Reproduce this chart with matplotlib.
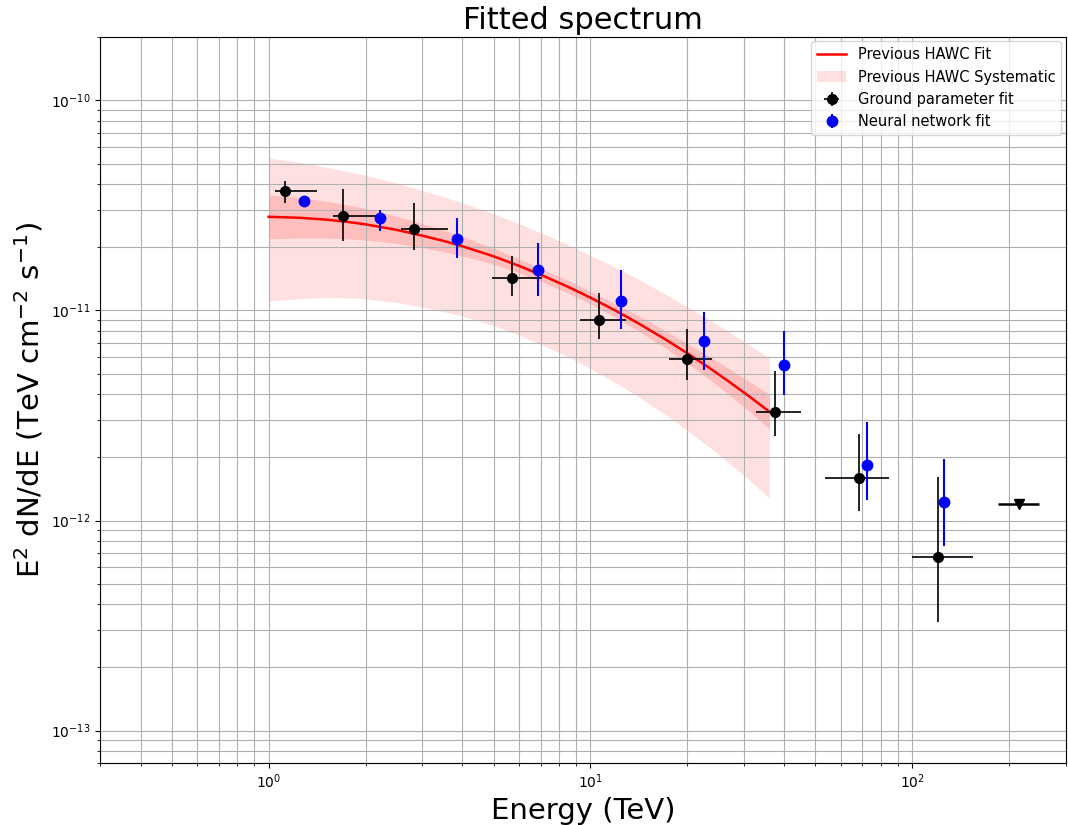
import numpy as np
import matplotlib
matplotlib.use("Agg")
import matplotlib.pyplot as plt

# ground parameter fit points (E in TeV, E^2 dN/dE in TeV cm^-2 s^-1)
gp_e = [1.12, 1.70, 2.82, 5.70, 10.6, 19.9, 37.5, 68.2, 120.4]
gp_elo = [1.05, 1.58, 2.58, 4.96, 9.29, 17.5, 32.7, 53.7, 99.5]
gp_ehi = [1.41, 2.15, 3.62, 7.06, 12.85, 23.9, 45.0, 84.4, 154.6]
gp_f = [3.72e-11, 2.83e-11, 2.45e-11, 1.42e-11, 9.03e-12, 5.89e-12, 3.28e-12, 1.60e-12, 6.71e-13]
gp_flo = [3.25e-11, 2.13e-11, 1.95e-11, 1.17e-11, 7.31e-12, 4.69e-12, 2.52e-12, 1.11e-12, 3.28e-13]
gp_fhi = [4.11e-11, 3.77e-11, 3.26e-11, 1.82e-11, 1.21e-11, 8.14e-12, 5.14e-12, 2.58e-12, 1.61e-12]

# upper limit
ul_e = [214.7]
ul_elo = [184.8]
ul_ehi = [247.6]
ul_f = [1.20e-12]

# neural network fit points
nn_e = [1.287, 2.21, 3.85, 6.89, 12.43, 22.5, 40.0, 72.2, 125.0]
nn_f = [3.32e-11, 2.74e-11, 2.20e-11, 1.55e-11, 1.11e-11, 7.18e-12, 5.47e-12, 1.83e-12, 1.23e-12]
nn_flo = [3.15e-11, 2.39e-11, 1.77e-11, 1.17e-11, 8.14e-12, 5.22e-12, 3.97e-12, 1.25e-12, 7.55e-13]
nn_fhi = [3.50e-11, 3.02e-11, 2.75e-11, 2.10e-11, 1.56e-11, 9.83e-12, 7.98e-12, 2.93e-12, 1.97e-12]

# previous HAWC fit, with band half widths (decades)
fit_e = [1, 1.25, 1.5, 1.75, 2, 2.5, 3, 3.5, 4, 5, 6, 7, 8.5, 10, 12, 14, 17, 20, 23.5, 27, 31, 36]
fit_f = [2.790e-11, 2.761e-11, 2.708e-11, 2.641e-11, 2.57e-11, 2.418e-11, 2.27e-11, 2.141e-11,
         2.02e-11, 1.81e-11, 1.629e-11, 1.48e-11, 1.297e-11, 1.15e-11, 9.956e-12, 8.73e-12,
         7.318e-12, 6.25e-12, 5.305e-12, 4.57e-12, 3.917e-12, 3.29e-12]
stat_w = [0.105, 0.096, 0.088, 0.081, 0.075, 0.065, 0.057, 0.051, 0.046, 0.038, 0.034, 0.031,
          0.030, 0.030, 0.032, 0.036, 0.041, 0.047, 0.054, 0.062, 0.071, 0.082]
sys_up = [0.280, 0.264, 0.250, 0.241, 0.233, 0.223, 0.215, 0.210, 0.207, 0.203, 0.201, 0.200,
          0.200, 0.202, 0.205, 0.210, 0.215, 0.222, 0.229, 0.237, 0.245, 0.255]
sys_dn = [0.400, 0.385, 0.371, 0.362, 0.355, 0.346, 0.339, 0.336, 0.333, 0.330, 0.330, 0.331,
          0.334, 0.338, 0.343, 0.349, 0.358, 0.368, 0.378, 0.388, 0.398, 0.411]

fit_e = np.array(fit_e)
fit_f = np.array(fit_f)

fig = plt.figure(figsize=(10.68, 8.25), dpi=100)
ax = fig.add_axes([0.094, 0.075, 0.904, 0.880])

ax.fill_between(fit_e, fit_f * 10**-np.array(sys_dn), fit_f * 10**np.array(sys_up),
                color="red", alpha=0.12, lw=0, label="Previous HAWC Systematic")
ax.fill_between(fit_e, fit_f * 10**-np.array(stat_w), fit_f * 10**np.array(stat_w),
                color="red", alpha=0.15, lw=0)
ax.plot(fit_e, fit_f, color="red", lw=1.8, label="Previous HAWC Fit")

gp_e_a = np.array(gp_e)
gp_f_a = np.array(gp_f)
ax.errorbar(gp_e, gp_f,
            xerr=[gp_e_a - np.array(gp_elo), np.array(gp_ehi) - gp_e_a],
            yerr=[gp_f_a - np.array(gp_flo), np.array(gp_fhi) - gp_f_a],
            fmt="o", color="black", ms=7, elinewidth=1.2, label="Ground parameter fit")
ax.errorbar(ul_e, ul_f,
            xerr=[[ul_e[0] - ul_elo[0]], [ul_ehi[0] - ul_e[0]]],
            fmt="v", color="black", ms=7, elinewidth=1.8)

nn_f_a = np.array(nn_f)
ax.errorbar(nn_e, nn_f,
            yerr=[nn_f_a - np.array(nn_flo), np.array(nn_fhi) - nn_f_a],
            fmt="o", color="blue", ms=7.5, elinewidth=1.5, label="Neural network fit")

ax.set_xscale("log")
ax.set_yscale("log")
ax.set_xlim(0.3, 300)
ax.set_ylim(7e-14, 2e-10)
ax.grid(True, which="both", color="#b0b0b0", lw=0.8)

ax.set_title("Fitted spectrum", fontsize=22)
ax.set_xlabel("Energy (TeV)", fontsize=21)
ax.set_ylabel("E$^2$ dN/dE (TeV cm$^{-2}$ s$^{-1}$)", fontsize=21)

h, l = ax.get_legend_handles_labels()
order = [l.index(s) for s in ["Previous HAWC Fit", "Previous HAWC Systematic",
                              "Ground parameter fit", "Neural network fit"]]
ax.legend([h[i] for i in order], [l[i] for i in order], loc="upper right",
          bbox_to_anchor=(1.0, 1.0), borderaxespad=0.3, fontsize=10.5)

fig.savefig("out.png")
